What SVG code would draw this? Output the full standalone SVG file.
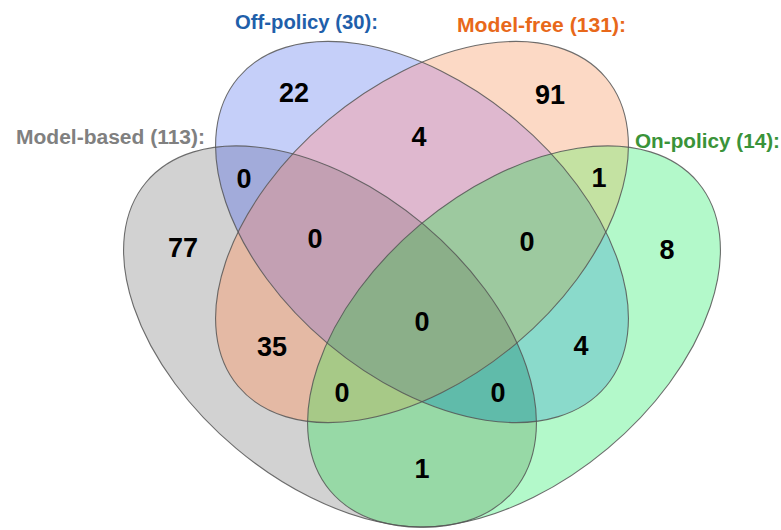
<svg xmlns="http://www.w3.org/2000/svg" xmlns:xlink="http://www.w3.org/1999/xlink" width="781" height="530" viewBox="0 0 781 530">
  <style>
    .lbl { font-family: "Liberation Sans", Arial, sans-serif; font-weight: bold; font-size: 20px; }
    .num { font-family: "Liberation Sans", Arial, sans-serif; font-weight: bold; font-size: 27px; fill: #000; text-anchor: middle; }
    .edge { fill: none; stroke: #555; stroke-width: 1.1; stroke-opacity: 0.85; }
  </style>
  <defs>
    <ellipse id="eA" cx="0" cy="0" rx="240" ry="146" transform="translate(330 336.5) rotate(40)"/>
    <ellipse id="eB" cx="0" cy="0" rx="240" ry="146" transform="translate(422 232) rotate(40)"/>
    <ellipse id="eC" cx="0" cy="0" rx="240" ry="146" transform="translate(422 232) rotate(-40)"/>
    <ellipse id="eD" cx="0" cy="0" rx="240" ry="146" transform="translate(514 336.5) rotate(-40)"/>
    <clipPath id="cA"><ellipse cx="0" cy="0" rx="240" ry="146" transform="translate(330 336.5) rotate(40)"/></clipPath>
    <clipPath id="cB"><ellipse cx="0" cy="0" rx="240" ry="146" transform="translate(422 232) rotate(40)"/></clipPath>
    <clipPath id="cC"><ellipse cx="0" cy="0" rx="240" ry="146" transform="translate(422 232) rotate(-40)"/></clipPath>
    <clipPath id="cD"><ellipse cx="0" cy="0" rx="240" ry="146" transform="translate(514 336.5) rotate(-40)"/></clipPath>
  </defs>
  <rect width="781" height="530" fill="#fff"/>

  <g id="regions">
    <!-- single sets -->
    <use href="#eA" fill="#D2D2D2"/>
    <use href="#eB" fill="#C5CFF9"/>
    <use href="#eC" fill="#FCD9C5"/>
    <use href="#eD" fill="#B3F9CA"/>
    <!-- pairs -->
    <use href="#eB" clip-path="url(#cA)" fill="#A2ABDA"/>
    <use href="#eC" clip-path="url(#cA)" fill="#E4B9A4"/>
    <use href="#eD" clip-path="url(#cA)" fill="#97D9A6"/>
    <use href="#eC" clip-path="url(#cB)" fill="#DFB8CF"/>
    <use href="#eD" clip-path="url(#cB)" fill="#8ADACB"/>
    <use href="#eD" clip-path="url(#cC)" fill="#C4E2A2"/>
    <!-- triples -->
    <g clip-path="url(#cA)"><use href="#eC" clip-path="url(#cB)" fill="#C3A0B3"/></g>
    <g clip-path="url(#cA)"><use href="#eD" clip-path="url(#cB)" fill="#60BBAA"/></g>
    <g clip-path="url(#cA)"><use href="#eD" clip-path="url(#cC)" fill="#A7C987"/></g>
    <g clip-path="url(#cB)"><use href="#eD" clip-path="url(#cC)" fill="#9DC99F"/></g>
    <!-- all four -->
    <g clip-path="url(#cA)"><g clip-path="url(#cB)"><use href="#eD" clip-path="url(#cC)" fill="#8BAF89"/></g></g>
  </g>

  <g id="model-based">
    <use href="#eA" class="edge"/>
    <text class="lbl" x="16" y="144" fill="#808080" textLength="189" lengthAdjust="spacingAndGlyphs">Model-based (113):</text>
  </g>
  <g id="off-policy">
    <use href="#eB" class="edge"/>
    <text class="lbl" x="235" y="29" fill="#1F5FAA" textLength="143" lengthAdjust="spacingAndGlyphs">Off-policy (30):</text>
  </g>
  <g id="model-free">
    <use href="#eC" class="edge"/>
    <text class="lbl" x="457" y="32" fill="#E8681A" textLength="169" lengthAdjust="spacingAndGlyphs">Model-free (131):</text>
  </g>
  <g id="on-policy">
    <use href="#eD" class="edge"/>
    <text class="lbl" x="635" y="148" fill="#3A9339" textLength="145" lengthAdjust="spacingAndGlyphs">On-policy (14):</text>
  </g>

  <g id="counts">
    <text class="num" x="294" y="102">22</text>
    <text class="num" x="550" y="104">91</text>
    <text class="num" x="419" y="146">4</text>
    <text class="num" x="244" y="188">0</text>
    <text class="num" x="599" y="187">1</text>
    <text class="num" x="183" y="257">77</text>
    <text class="num" x="315" y="248">0</text>
    <text class="num" x="527" y="251">0</text>
    <text class="num" x="667" y="259">8</text>
    <text class="num" x="422" y="331">0</text>
    <text class="num" x="272" y="356">35</text>
    <text class="num" x="581" y="355">4</text>
    <text class="num" x="342" y="402">0</text>
    <text class="num" x="498" y="402">0</text>
    <text class="num" x="422" y="478">1</text>
  </g>
</svg>
